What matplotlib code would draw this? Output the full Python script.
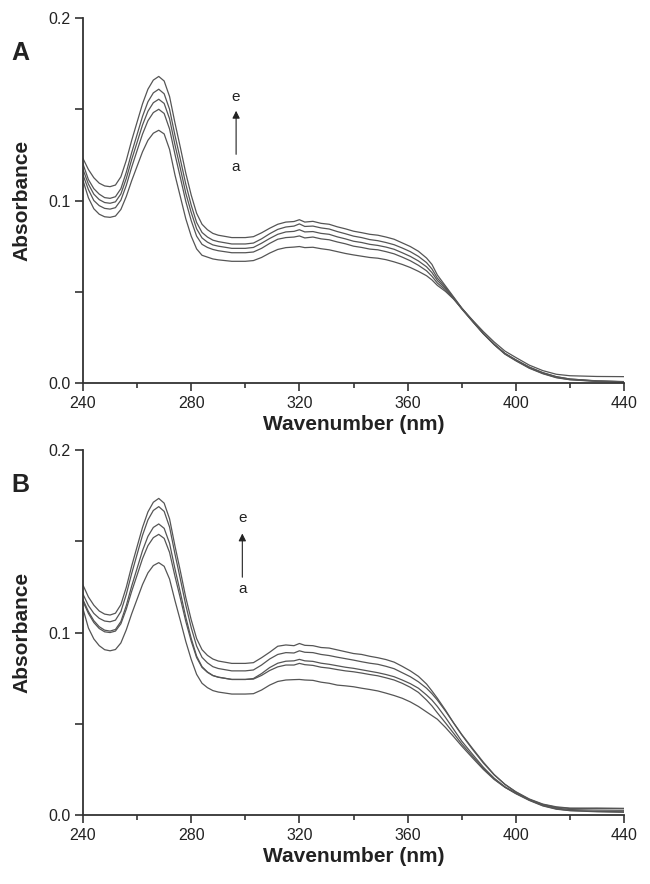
import matplotlib
matplotlib.use("Agg")
import matplotlib.pyplot as plt
from matplotlib.ticker import FixedLocator

plt.rcParams['font.family'] = ['Liberation Sans', 'DejaVu Sans']

wavelength = [240, 242, 244, 246, 248, 250, 252, 254, 256, 258, 260, 262, 264, 266, 268,
              270, 272, 274, 276, 278, 280, 282, 284, 286, 288, 290, 295,
              300, 303, 306, 309, 312, 315, 318, 320, 322, 325, 328, 331, 334, 337, 340,
              343, 346, 349, 352, 355, 358, 361, 364, 367, 369, 371, 374, 377, 380, 384,
              388, 392, 396, 400, 405, 410, 415, 420, 430, 440]

x_ticks = [240, 280, 320, 360, 400, 440]
x_minor = [260, 300, 340, 380, 420]
y_ticks = [0.0, 0.1, 0.2]
y_minor = [0.05, 0.15]

# Panel A spectra (curves a -> e)
A_a = [.111, .1015, .0955, .0925, .0911, .0908, .0915, .0951, .1022, .1109, .1188, .1267, .1330, .1369, .1385,
       .1365, .128, .114, .102, .090, .0805, .0735, .070, .069, .068, .0675, .0667,
       .0667, .0671, .0688, .0712, .0732, .0742, .0745, .0748, .0742, .0744, .0736, .0730, .0720, .0710, .0702,
       .0695, .0688, .0684, .0676, .0664, .0650, .0633, .0612, .0588, .0565, .0535, .0502, .0460, .0410, .0345,
       .0282, .0225, .0175, .0140, .0098, .0068, .0048, .0040, .0036, .0035]
A_b = [.114, .106, .100, .0972, .0957, .0953, .0961, .1002, .1083, .1183, .1274, .1364, .1437, .1482, .150,
       .1477, .1392, .1253, .1125, .0995, .089, .0805, .076, .0743, .0732, .0725, .0714,
       .0714, .0718, .0738, .0765, .0788, .0797, .0800, .0806, .0795, .0800, .0790, .0785, .0773, .0763, .0750,
       .0743, .0734, .0730, .0720, .0708, .0690, .0670, .0645, .0615, .0585, .0548, .0510, .0462, .0406, .0337,
       .0270, .0212, .0162, .0127, .0087, .0056, .0034, .0022, .0011, .0007]
A_c = [.117, .109, .1035, .1005, .0989, .0985, .0993, .1036, .1121, .1225, .1319, .1414, .1489, .1536, .1555,
       .1532, .1448, .1305, .1175, .104, .0935, .0845, .0795, .0772, .0757, .075, .0738,
       .0738, .0743, .0766, .0792, .0815, .0828, .0831, .0840, .0828, .0830, .0820, .0815, .0801, .0790, .0777,
       .0770, .0760, .0754, .0745, .0733, .0714, .0694, .0669, .0637, .0605, .0562, .0518, .0465, .0408, .0338,
       .0270, .0210, .0158, .0122, .0081, .0051, .0029, .0018, .0009, .0006]
A_d = [.120, .1115, .1065, .1035, .1016, .1012, .1021, .1065, .1155, .1263, .1362, .1461, .1541, .1590, .1610,
       .1585, .150, .1357, .1225, .109, .0975, .088, .0825, .080, .0783, .0775, .0762,
       .0762, .0767, .0790, .0818, .0842, .0855, .0860, .0872, .0858, .0860, .0850, .0844, .0830, .0818, .0805,
       .0797, .0786, .0780, .0770, .0758, .0740, .0720, .0694, .0660, .0625, .0575, .0525, .0468, .0410, .0340,
       .0272, .0212, .0160, .0124, .0083, .0053, .0031, .0019, .0010, .0007]
A_e = [.123, .117, .1125, .1095, .108, .1076, .1085, .113, .122, .133, .143, .153, .161, .166, .168,
       .1655, .157, .1425, .129, .115, .103, .093, .087, .084, .082, .081, .0797,
       .0797, .0802, .0823, .0848, .0870, .0882, .0885, .0895, .0882, .0886, .0875, .0870, .0856, .0845, .0832,
       .0824, .0815, .0810, .0800, .0788, .0768, .0748, .0722, .0685, .0650, .0592, .0532, .0472, .0412, .0342,
       .0272, .0212, .0162, .0127, .0087, .0057, .0035, .0022, .0012, .0008]

# Panel B spectra (curves a -> e)
B_a = [.113, .1025, .0965, .0928, .0906, .0900, .0907, .0943, .1015, .1103, .1183, .1263, .1327, .1367, .1383,
       .1363, .1293, .1175, .1065, .0951, .0853, .0771, .0722, .0698, .0682, .0674, .0663,
       .0663, .0665, .0685, .0712, .0732, .0740, .0742, .0743, .0740, .0738, .0728, .0722, .0712, .0708, .0703,
       .0695, .0688, .0680, .0668, .0655, .0640, .0620, .0595, .0565, .0545, .0525, .0480, .0430, .0378, .0313,
       .0250, .0195, .0152, .0120, .0085, .0058, .0042, .0036, .0038, .0036]
B_b = [.117, .1105, .1055, .1022, .1004, .1000, .1008, .1048, .1128, .1226, .1315, .1405, .1476, .152, .1538,
       .1516, .1439, .1308, .1187, .1061, .0953, .0863, .0809, .0782, .0764, .0755, .0743,
       .0743, .0745, .0765, .0792, .0812, .0822, .0822, .0831, .0824, .0820, .0810, .0805, .0797, .0790, .0785,
       .0778, .0770, .0763, .0752, .0740, .0722, .0700, .0672, .0630, .0598, .0560, .0505, .0448, .0390, .0322,
       .0255, .0198, .0152, .0117, .0080, .0050, .0032, .0024, .0018, .0015]
B_c = [.118, .1115, .1065, .1032, .1013, .1008, .1017, .1060, .1148, .1255, .1352, .1449, .1527, .1576, .1595,
       .1571, .1489, .1349, .1219, .1084, .0968, .0871, .0813, .0784, .0765, .0756, .0743,
       .0743, .0748, .0775, .0808, .0832, .0843, .0845, .0853, .0845, .0842, .0832, .0826, .0818, .0810, .0804,
       .0796, .0788, .0780, .0770, .0758, .0740, .0720, .0695, .0658, .0630, .0595, .0535, .0470, .0405, .0333,
       .0262, .0202, .0155, .0120, .0082, .0052, .0034, .0025, .0020, .0018]
B_d = [.121, .1148, .1105, .1078, .1063, .1059, .1068, .1115, .1209, .1324, .1429, .1533, .1617, .1669, .169,
       .1664, .1578, .143, .1292, .115, .1027, .0926, .0864, .0834, .0813, .0803, .079,
       .0790, .0795, .0822, .0855, .0880, .0890, .0888, .0900, .0892, .0890, .0880, .0874, .0865, .0857, .0849,
       .0840, .0832, .0826, .0815, .0802, .0780, .0758, .0730, .0695, .0665, .0630, .0570, .0505, .0442, .0365,
       .0290, .0222, .0168, .0126, .0085, .0055, .0038, .0030, .0027, .0026]
B_e = [.126, .1195, .115, .1118, .1101, .1096, .1106, .1153, .1248, .1365, .1471, .1576, .1661, .1714, .1735,
       .1709, .1623, .1474, .1336, .1192, .107, .0967, .0906, .0875, .0855, .0844, .0831,
       .0831, .0835, .0862, .0892, .0925, .0932, .0928, .0940, .0930, .0928, .0918, .0915, .0905, .0895, .0885,
       .0880, .0870, .0862, .0852, .0838, .0815, .0790, .0760, .0718, .0680, .0640, .0575, .0505, .0440, .0360,
       .0285, .0220, .0168, .0128, .0088, .0060, .0045, .0038, .0036, .0036]

panels = [("A", [A_a, A_b, A_c, A_d, A_e]), ("B", [B_a, B_b, B_c, B_d, B_e])]
arrow_pos = [(296.6, 0.1507, 0.1238, 0.157, 0.1184), (298.9, 0.1558, 0.1288, 0.163, 0.1238)]

fig = plt.figure(figsize=(6.5, 8.84), dpi=100)
axes_rects = [[0.1277, 0.5667, 0.8323, 0.4129], [0.1277, 0.078, 0.8323, 0.4129]]

for (name, curves), rect, arr in zip(panels, axes_rects, arrow_pos):
    ax = fig.add_axes(rect)
    for c in curves:
        ax.plot(wavelength, c, color='#555555', lw=0.9)
    ax.set_xlim(240, 440)
    ax.set_ylim(0, 0.2)
    for s in ['top', 'right']:
        ax.spines[s].set_visible(False)
    for s in ['left', 'bottom']:
        ax.spines[s].set_color('#333333')
        ax.spines[s].set_linewidth(1.3)
    ax.xaxis.set_major_locator(FixedLocator(x_ticks))
    ax.xaxis.set_minor_locator(FixedLocator(x_minor))
    ax.yaxis.set_major_locator(FixedLocator(y_ticks))
    ax.yaxis.set_minor_locator(FixedLocator(y_minor))
    ax.set_xticklabels([str(t) for t in x_ticks])
    ax.set_yticklabels(['%.1f' % t for t in y_ticks])
    ax.tick_params(axis='both', which='major', direction='out', length=6, width=1.2,
                   color='#333333', labelsize=11.5, labelcolor='#222222', pad=3)
    ax.tick_params(axis='y', which='minor', direction='out', length=6, width=1.2, color='#333333')
    ax.tick_params(axis='x', which='minor', direction='out', length=3.5, width=1.2, color='#333333')
    ax.set_xlabel('Wavenumber (nm)', fontsize=15, fontweight='bold', color='#222222', labelpad=3)
    ax.set_ylabel('Absorbance', fontsize=15, fontweight='bold', color='#222222', labelpad=12)
    x0, tip, tail, ey, ay = arr
    ax.annotate('', xy=(x0, tip), xytext=(x0, tail),
                arrowprops=dict(arrowstyle='-|>', color='#222222', lw=0.8, mutation_scale=11))
    ax.text(x0, ey, 'e', fontsize=11, ha='center', va='center', color='#222222')
    ax.text(x0, ay, 'a', fontsize=11, ha='center', va='center', color='#222222')
    ax.text(-0.115, 0.905, name, transform=ax.transAxes, fontsize=18, fontweight='bold',
            ha='center', va='center', color='#222222')

fig.savefig('out.png', dpi=100)
